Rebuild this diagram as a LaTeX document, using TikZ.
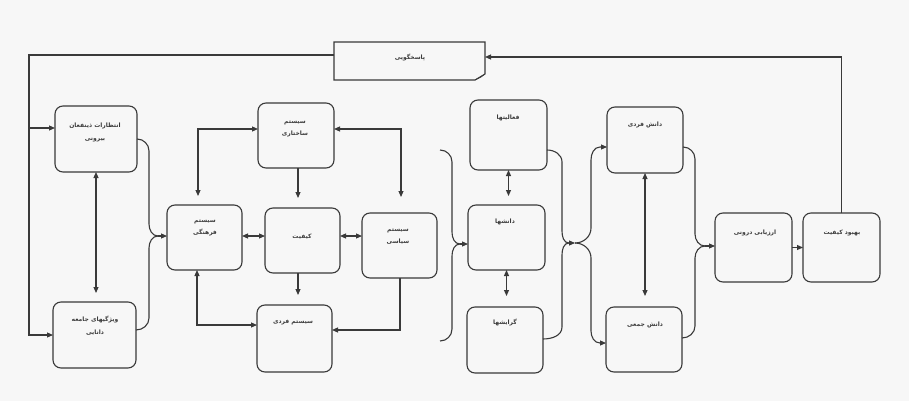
\documentclass[tikz,border=0pt]{standalone}
\usepackage{fontspec}
\newfontfamily\arabicfont[Script=Arabic]{DejaVu Sans}
\TeXXeTstate=1
\usetikzlibrary{arrows.meta}
\definecolor{ln}{HTML}{3A3A3A}
\definecolor{bg}{HTML}{F7F7F7}
\begin{document}
\begin{tikzpicture}[x=1pt,y=-1pt,
  conn/.style={draw=ln, line width=1.1pt},
  arr/.style={conn, -{Triangle[length=6pt,width=5pt]}},
  darr/.style={conn, {Triangle[length=6pt,width=5pt]}-{Triangle[length=6pt,width=5pt]}},
  box/.style={draw=ln, line width=1.1pt, rounded corners=8pt, inner sep=0pt, outer sep=0pt},
  txt/.style={font=\arabicfont\bfseries\fontsize{6}{13}\selectfont, text=ln, align=center, inner sep=0pt}]
\fill[bg] (0,0) rectangle (909,401);
\useasboundingbox (0,0) rectangle (909,401);

% boxes
\node[inner sep=0pt, outer sep=0pt, minimum width=151pt, minimum height=38pt] (resp) at (409.5,61) {};
\draw[conn] (resp.north west) -- (resp.north east) -- ([yshift=6pt]resp.south east) -- ([xshift=-10pt]resp.south east) -- (resp.south west) -- cycle;
\draw[conn, line width=0.7pt] ([yshift=6pt]resp.south east) -- ([xshift=-4pt,yshift=3pt]resp.south east) -- ([xshift=-10pt]resp.south east);

\node[box, minimum width=82pt, minimum height=66pt] (ent)  at (96,139) {};
\node[box, minimum width=83pt, minimum height=66pt] (viz)  at (94.5,335) {};
\node[box, minimum width=75pt, minimum height=65pt] (farh) at (204.5,237.5) {};
\node[box, minimum width=76pt, minimum height=65pt] (sakh) at (296,135.5) {};
\node[box, minimum width=75pt, minimum height=65pt] (kif)  at (302.5,240.5) {};
\node[box, minimum width=75pt, minimum height=65pt] (siya) at (399.5,245.5) {};
\node[box, minimum width=75pt, minimum height=67pt] (fard) at (294.5,338.5) {};
\node[box, minimum width=77pt, minimum height=70pt] (faal) at (508.5,135) {};
\node[box, minimum width=77pt, minimum height=65pt] (dan)  at (506.5,237.5) {};
\node[box, minimum width=76pt, minimum height=66pt] (gara) at (505,340) {};
\node[box, minimum width=76pt, minimum height=66pt] (dfard) at (645,140) {};
\node[box, minimum width=76pt, minimum height=65pt] (djam) at (644,339.5) {};
\node[box, minimum width=77pt, minimum height=69pt] (arz)  at (753.5,247.5) {};
\node[box, minimum width=77pt, minimum height=69pt] (beh)  at (841.5,247.5) {};

% texts
\node[txt] (respT) at (410,58) {\beginR پاسخگویی\endR};
\node[txt] (entT) at (95,132) {\beginR انتظارات ذینفعان\endR\\\beginR بیرونی\endR};
\node[txt] (vizT) at (95,326) {\beginR ویژگیهای جامعه\endR\\\beginR دانایی\endR};
\node[txt, font=\arabicfont\bfseries\fontsize{6}{12}\selectfont] (farhT) at (205,228) {\beginR سیستم\endR\\\beginR فرهنگی\endR};
\node[txt, font=\arabicfont\bfseries\fontsize{6}{12}\selectfont] (sakhT) at (295,129) {\beginR سیستم\endR\\\beginR ساختاری\endR};
\node[txt] (kifT) at (302,237) {\beginR کیفیت\endR};
\node[txt, font=\arabicfont\bfseries\fontsize{6}{12}\selectfont] (siyaT) at (398,237) {\beginR سیستم\endR\\\beginR سیاسی\endR};
\node[txt] (fardT) at (293,322) {\beginR سیستم فردی\endR};
\node[txt] (faalT) at (508,118) {\beginR فعالیتها\endR};
\node[txt] (danT) at (505,222) {\beginR دانشها\endR};
\node[txt] (garaT) at (505,323) {\beginR گرایشها\endR};
\node[txt] (dfardT) at (645,125) {\beginR دانش فردی\endR};
\node[txt] (djamT) at (645,325) {\beginR دانش جمعی\endR};
\node[txt] (arzT) at (755,233) {\beginR ارزیابی درونی\endR};
\node[txt] (behT) at (842,233) {\beginR بهبود کیفیت\endR};

% outer feedback loops
\coordinate (lt) at (29,55);
\coordinate (lm) at (29,128);
\draw[arr] (resp.west |- lt) -- (lt) -- (lm) -- (ent.west |- lm);
\draw[arr] (lm) -- (29,335) -- (viz.west);
\draw[arr] (beh.north) -- (beh.north |- 0,57) -- (resp.east |- 0,57);

% left column
\draw[darr, shorten >=9pt] (ent.south) -- (ent.south |- viz.north);

% brace 1
\coordinate (b1) at (158,236);
\draw[conn] (ent.east) to[out=0,in=90] (149,151) -- (149,224) to[out=270,in=180] (b1);
\draw[conn] (viz.east |- 0,330) to[out=0,in=270] (149,318) -- (149,248) to[out=90,in=180] (b1);
\draw[arr] (b1) -- (farh.west |- b1);

% systems
\draw[darr, shorten >=9pt] (sakh.west |- 0,129) -- (198,129) -- (198,0 |- farh.north);
\draw[darr, shorten >=16pt] (sakh.east |- 0,129) -- (401,129) -- (401,0 |- siya.north);
\draw[arr, shorten >=10pt] (sakh.south -| 298,0) -- (298,0 |- kif.north);
\draw[darr] (farh.east |- 0,236) -- (kif.west |- 0,236);
\draw[darr] (kif.east |- 0,236) -- (siya.west |- 0,236);
\draw[arr, shorten >=10pt] (kif.south -| 298,0) -- (298,0 |- fard.north);
\draw[darr] (farh.south -| 197,0) -- (197,325) -- (fard.west |- 0,325);
\draw[arr] (siya.south -| 400,0) -- (400,330) -- (fard.east |- 0,330);

% brace 2
\coordinate (b2t) at (440,150);
\coordinate (b2b) at (440,341);
\coordinate (b2m) at (460,244);
\draw[conn] (b2t) to[out=0,in=90] (452,162) -- (452,232) to[out=270,in=180] (b2m);
\draw[conn] (b2b) to[out=0,in=270] (452,329) -- (452,256) to[out=90,in=180] (b2m);
\draw[arr] (b2m) -- (dan.west |- b2m);

% knowledge column
\draw[darr, shorten >=9pt] (faal.south) -- (faal.south |- dan.north);
\draw[darr, shorten >=11pt] (dan.south) -- (dan.south |- gara.north);

% brace 3 (converge + diverge)
\coordinate (b3) at (575,243);
\draw[conn] (faal.east |- 0,150) to[out=0,in=90] (562,162) -- (562,231) to[out=270,in=180] (569,243);
\draw[conn] (gara.east |- 0,339) to[out=0,in=270] (562,327) -- (562,255) to[out=90,in=180] (569,243);
\draw[arr] (569,243) -- (b3);
\draw[arr] (b3) to[out=0,in=270] (591,228) -- (591,160) to[out=90,in=180] (600,147) -- (dfard.west |- 0,147);
\draw[arr] (b3) to[out=0,in=90] (591,258) -- (591,331) to[out=270,in=180] (600,343) -- (djam.west |- 0,343);

\draw[darr, shorten >=11pt] (dfard.south) -- (dfard.south |- djam.north);

% brace 4
\coordinate (b4) at (705,246);
\draw[conn] (dfard.east |- 0,147) to[out=0,in=90] (695,159) -- (695,234) to[out=270,in=180] (b4);
\draw[conn] (djam.east |- 0,338) to[out=0,in=270] (695,326) -- (695,258) to[out=90,in=180] (b4);
\draw[arr] (b4) -- (arz.west |- b4);

\draw[arr] (arz.east) -- (beh.west);
\end{tikzpicture}
\end{document}
